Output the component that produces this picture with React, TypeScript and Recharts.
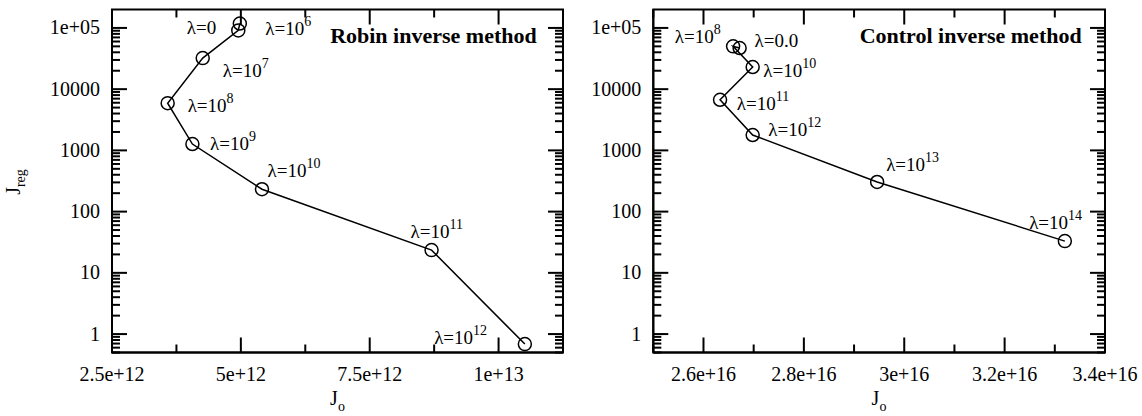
import React from "react";
import { LineChart, Line, XAxis, YAxis, LabelList, ReferenceArea } from "recharts";

// Robin inverse method: one point per lambda exponent
const robinLambda = ["0", "6", "7", "8", "9", "10", "11", "12"];
const robinJo = [4.98e12, 4.95e12, 4.26e12, 3.58e12, 4.06e12, 5.41e12, 8.7e12, 1.051e13];
const robinJreg = [1.18e5, 9.1e4, 3.22e4, 5.9e3, 1.27e3, 232, 23.5, 0.686];

// Control inverse method
const controlLambda = ["0.0", "8", "10", "11", "12", "13", "14"];
const controlJo = [2.672e16, 2.659e16, 2.698e16, 2.633e16, 2.698e16, 2.946e16, 3.32e16];
const controlJreg = [4.7e4, 5.0e4, 2.3e4, 6.7e3, 1.78e3, 305, 33];

const robinXMajor = [2.5e12, 5e12, 7.5e12, 1e13];
const robinXMinor = [3.75e12, 6.25e12, 8.75e12];
const robinXLabels = ["2.5e+12", "5e+12", "7.5e+12", "1e+13"];
const controlXMajor = [2.6e16, 2.8e16, 3.0e16, 3.2e16, 3.4e16];
const controlXMinor = [2.5e16, 2.7e16, 2.9e16, 3.1e16, 3.3e16];
const controlXLabels = ["2.6e+16", "2.8e+16", "3e+16", "3.2e+16", "3.4e+16"];

const yMajor = [1, 10, 100, 1000, 10000, 100000];
const yLabels = ["1", "10", "100", "1000", "10000", "1e+05"];
const yMinorSteps = [2, 3, 4, 5, 6, 7, 8, 9];
const yMinor = [0.5, 0.6, 0.7, 0.8, 0.9].concat(
  ...yMajor.slice(0, 5).map((d) => yMinorSteps.map((m) => m * d))
);
const yDomain = [0.5, 2e5];

// label placement relative to the point (dx, baseline dy)
const robinLabelPos: Record<string, [number, number]> = {
  "0": [-53, 10], "6": [27, 5], "7": [20, 19], "8": [20, 9],
  "9": [17.6, 6], "10": [5.6, -12], "11": [-21, -12], "12": [-90.7, 0],
};
const controlLabelPos: Record<string, [number, number]> = {
  "8": [-58.3, -3], "0.0": [15, -1], "10": [10.6, 10], "11": [16.7, 10],
  "12": [15.6, 1], "13": [9, -11], "14": [-35.7, -12],
};

const FONT = "Liberation Serif";
const PLOT_TOP = 9.5;
const axisStyle = { stroke: "#000", strokeWidth: 2 };

const robinData = robinLambda.map((lam, i) => ({ lam, jo: robinJo[i], jreg: robinJreg[i] }));
const controlData = controlLambda.map((lam, i) => ({ lam, jo: controlJo[i], jreg: controlJreg[i] }));

// bottom tick plus its mirror on the top frame edge
function XTick(props: any) {
  const { x, y, payload, majors, labels } = props;
  const i = majors.indexOf(payload.value);
  const len = i >= 0 ? 15 : 8;
  return (
    <g>
      <line x1={x} y1={y} x2={x} y2={y - len} stroke="#000" strokeWidth={2} />
      <line x1={x} y1={PLOT_TOP} x2={x} y2={PLOT_TOP + len} stroke="#000" strokeWidth={2} />
      {i >= 0 ? (
        <text x={x} y={y + 28} textAnchor="middle" fontFamily={FONT} fontSize={20} fill="#000">
          {labels[i]}
        </text>
      ) : null}
    </g>
  );
}

// left tick plus its mirror on the right frame edge
function YTick(props: any) {
  const { x, y, payload, plotRight } = props;
  const i = yMajor.indexOf(payload.value);
  const len = i >= 0 ? 15 : 8;
  return (
    <g>
      <line x1={x} y1={y} x2={x + len} y2={y} stroke="#000" strokeWidth={2} />
      <line x1={plotRight} y1={y} x2={plotRight - len} y2={y} stroke="#000" strokeWidth={2} />
      {i >= 0 ? (
        <text x={x - 12} y={y + 6.5} textAnchor="end" fontFamily={FONT} fontSize={20} fill="#000">
          {yLabels[i]}
        </text>
      ) : null}
    </g>
  );
}

function lambdaLabel(pos: Record<string, [number, number]>) {
  return (props: any) => {
    const lam = String(props.value);
    const px = props.x ?? props.viewBox?.x;
    const py = props.y ?? props.viewBox?.y;
    const [dx, dy] = pos[lam] || [10, 0];
    const plain = lam.startsWith("0");
    return (
      <text x={px + dx} y={py + dy} fontFamily={FONT} fontSize={19} fill="#000">
        {plain ? `λ=${lam}` : "λ=10"}
        {plain ? null : (
          <tspan dy={-9} fontSize={14}>
            {lam}
          </tspan>
        )}
      </text>
    );
  };
}

function Panel(props: any) {
  const { data, xDomain, xMajor, xMinor, xLabels, yWidth, width, right, pos } = props;
  const xTicks = [...xMajor, ...xMinor];
  const yTicks = [...yMajor, ...yMinor];
  const plotRight = width - right;
  return (
    <LineChart width={width} height={416} data={data} margin={{ top: PLOT_TOP, right, bottom: 0, left: 0 }}>
      <XAxis
        dataKey="jo" type="number" domain={xDomain} allowDataOverflow
        ticks={xTicks} interval={0} tickLine={false} tickSize={0} tickMargin={0}
        height={63.5} axisLine={axisStyle}
        tick={(p: any) => <XTick {...p} majors={xMajor} labels={xLabels} />}
      />
      <YAxis
        type="number" scale="log" domain={yDomain} allowDataOverflow
        ticks={yTicks} interval={0} tickLine={false} tickSize={0} tickMargin={0}
        width={yWidth} axisLine={axisStyle}
        tick={(p: any) => <YTick {...p} plotRight={plotRight} />}
      />
      <ReferenceArea
        x1={xDomain[0]} x2={xDomain[1]} y1={yDomain[0]} y2={yDomain[1]}
        stroke="#000" strokeWidth={2} fill="none" fillOpacity={0} ifOverflow="visible"
      />
      <Line
        dataKey="jreg" type="linear" stroke="#000" strokeWidth={1.5}
        dot={{ r: 6.5, stroke: "#000", strokeWidth: 1.5, fill: "none" }}
        activeDot={false} isAnimationActive={false}
      >
        <LabelList dataKey="lam" content={lambdaLabel(pos)} />
      </Line>
    </LineChart>
  );
}

export default function App() {
  return (
    <div style={{ position: "relative", width: 1142, height: 416, background: "#fff" }}>
      <style>{"body{margin:0}"}</style>
      <div style={{ position: "absolute", left: 0, top: 0 }}>
        <Panel
          data={robinData} xDomain={[2.5e12, 1.125e13]} xMajor={robinXMajor} xMinor={robinXMinor}
          xLabels={robinXLabels} yWidth={112} width={570} right={7} pos={robinLabelPos}
        />
      </div>
      <div style={{ position: "absolute", left: 570, top: 0 }}>
        <Panel
          data={controlData} xDomain={[2.5e16, 3.4e16]} xMajor={controlXMajor} xMinor={controlXMinor}
          xLabels={controlXLabels} yWidth={83.3} width={572} right={37} pos={controlLabelPos}
        />
      </div>
      <svg width={1142} height={416} style={{ position: "absolute", left: 0, top: 0, pointerEvents: "none" }}>
        <g fontFamily={FONT} fill="#000">
          <text x={536.7} y={43.3} textAnchor="end" fontSize={22} fontWeight="bold">Robin inverse method</text>
          <text x={1081.7} y={43.3} textAnchor="end" fontSize={22} fontWeight="bold">Control inverse method</text>
          <text transform="translate(20,182) rotate(-90)" textAnchor="middle" fontSize={20}>
            J<tspan dy={5} fontSize={14}>reg</tspan>
          </text>
          <text x={337.5} y={405} textAnchor="middle" fontSize={20}>
            J<tspan dy={6} fontSize={14}>o</tspan>
          </text>
          <text x={879} y={405} textAnchor="middle" fontSize={20}>
            J<tspan dy={6} fontSize={14}>o</tspan>
          </text>
        </g>
      </svg>
    </div>
  );
}
